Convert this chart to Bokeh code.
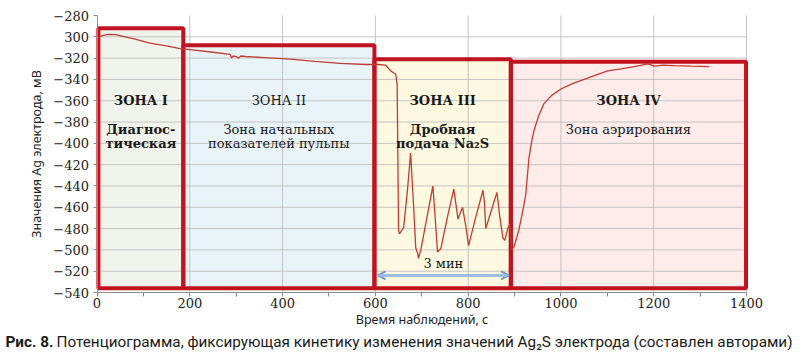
from bokeh.plotting import figure
from bokeh.models import Range1d, FixedTicker, Label, Arrow, OpenHead, ColumnDataSource
from bokeh.core.properties import value
from bokeh.embed import file_html
from bokeh.resources import INLINE

# ---------------- data ----------------
time_s = [0, 5, 13, 25, 40, 56, 80, 114, 150, 179,
          201, 250, 287, 290, 293, 300, 305, 310, 320, 360, 417, 470, 525, 580,
          605, 622, 633, 640, 644, 647, 650, 652, 661, 669, 676, 682, 687, 691, 693,
          698, 711, 724, 729, 734, 741, 755, 769, 774, 778, 788, 795, 801, 816, 832,
          835, 838, 850, 862, 868, 875, 879, 886, 890,
          894, 899, 909, 917, 924, 931, 937, 942, 952, 963, 980, 1000, 1025, 1050,
          1075, 1101, 1130, 1158, 1188, 1201, 1220, 1244, 1280, 1320]
potential_mv = [-302, -300, -298.7, -297.8, -298, -299.6, -302, -306, -308.5, -311,
                -312, -314.5, -316.5, -320, -318, -318.5, -320, -318, -318.5, -319.5, -321, -323, -325, -326,
                -326, -326.5, -332, -334, -335, -345, -482, -485, -479, -445, -409, -455, -498, -503, -508,
                -500, -470, -440, -470, -502, -499, -470, -443, -458, -471, -460, -478, -496, -470, -444,
                -455, -480, -463, -446, -468, -489, -491, -479, -476,
                -500, -497, -482, -465, -449, -414, -398, -388, -374, -363, -355, -349, -344, -340,
                -336, -332, -330, -328, -325.5, -327.5, -326.5, -327, -327.5, -328]

zone_left = [3, 186, 598, 892]
zone_right = [186, 598, 892, 1399]
zone_top = [-292, -308, -321, -323.5]
zone_bottom = [-536, -536, -536, -536]

zone_titles = ["ЗОНА I", "ЗОНА II", "ЗОНА III", "ЗОНА IV"]
zone_line1 = ["Диагнос-", "Зона начальных", "Дробная", "Зона аэрирования"]
zone_line2 = ["тическая", "показателей пульпы", "подача Na₂S", ""]
zone_bold = [True, False, True, False]

arrow_span = [605, 888]
arrow_level = -524
arrow_text = "3 мин"

x_min, x_max = 0, 1400
y_min, y_max = -540, -280
x_ticks = [0, 200, 400, 600, 800, 1000, 1200, 1400]
x_minor = [100, 300, 500, 700, 900, 1100, 1300]
y_ticks = list(range(-540, -279, 20))
y_tick_labels = {t: ("300" if t == -300 else "−" + str(-t)) for t in y_ticks}

caption_bold = "Рис. 8."
caption_text = "Потенциограмма, фиксирующая кинетику изменения значений Ag₂S электрода (составлен авторами)"

# ---------------- styles / geometry ----------------
zone_fills = ["#f0f4ec", "#e9f4f8", "#fdf9e0", "#fdecea"]
border_col = "#c1121f"
line_col = "#c23b33"
grid_col = "#c4c4c4"
serif = "DejaVu Serif"
sans = "Noto Sans"
cap_font = "Roboto"

W, H = 800, 360
frame_l, frame_r, frame_t, frame_b = 96.5, 746.0, 15.0, 292.0   # plot area in pixels
sx = (frame_r - frame_l) / (x_max - x_min)
sy = (frame_b - frame_t) / (y_max - y_min)
xr = Range1d(x_min - frame_l / sx, x_max + (W - frame_r) / sx)
yr = Range1d(y_min - (H - frame_b) / sy, y_max + frame_t / sy)

p = figure(width=W, height=H, output_backend="svg", toolbar_location=None,
           x_range=xr, y_range=yr, min_border=0)
p.outline_line_color = None
p.background_fill_color = "white"
p.xgrid.visible = False
p.ygrid.visible = False

zsrc = ColumnDataSource(dict(left=zone_left, right=zone_right, top=zone_top,
                             bottom=zone_bottom, fill=zone_fills))
fills = p.quad(left="left", right="right", top="top", bottom="bottom", source=zsrc,
               fill_color="fill", line_color=None)
fills.level = "image"

# grid lines limited to the plot area
vg = p.segment(x0=x_ticks[1:], x1=x_ticks[1:], y0=[y_min] * 7, y1=[y_max] * 7,
               line_color=grid_col, line_width=1)
hg = p.segment(x0=[x_min] * 12, x1=[x_max] * 12, y0=y_ticks[1:-1], y1=y_ticks[1:-1],
               line_color=grid_col, line_width=1)
vg.level = "underlay"
hg.level = "underlay"

p.quad(left="left", right="right", top="top", bottom="bottom", source=zsrc,
       fill_color=None, line_color=border_col, line_width=4)

p.line(time_s, potential_mv, line_color=line_col, line_width=1.3)

# axes fixed at the plot-area edges
p.xaxis.fixed_location = y_min
p.yaxis.fixed_location = x_min
p.xaxis.bounds = (x_min, x_max)
p.yaxis.bounds = (y_min, y_max)
p.xaxis.ticker = FixedTicker(ticks=x_ticks, minor_ticks=x_minor)
p.yaxis.ticker = FixedTicker(ticks=y_ticks)
p.yaxis.major_label_overrides = y_tick_labels
for ax in (p.xaxis[0], p.yaxis[0]):
    ax.axis_line_color = "#8c8c8c"
    ax.major_tick_line_color = "#8c8c8c"
    ax.minor_tick_line_color = "#8c8c8c"
    ax.major_tick_in = 0
    ax.minor_tick_in = 0
    ax.major_tick_out = 4
    ax.minor_tick_out = 4
    ax.major_label_text_font = serif
    ax.major_label_text_font_size = "13px"
    ax.major_label_text_color = "#222222"
    ax.axis_label_text_font = sans
    ax.axis_label_text_font_style = "normal"
    ax.axis_label_text_font_size = "12.5px"
    ax.axis_label_text_color = "#222222"
p.yaxis.minor_tick_line_color = None
p.yaxis.major_label_standoff = 4
p.xaxis.major_label_standoff = 1
p.xaxis.axis_label = "Время наблюдений, с"
p.yaxis.axis_label = "Значения Ag электрода, мВ"
p.xaxis.axis_label_standoff = 0
p.yaxis.axis_label_standoff = 6

# zone texts
centers = [(l + r) / 2 for l, r in zip(zone_left, zone_right)]
for i in range(4):
    style = "bold" if zone_bold[i] or i == 3 else "normal"
    src = ColumnDataSource(dict(x=[centers[i]], y=[-360], t=[zone_titles[i]]))
    p.text(x="x", y="y", text="t", source=src, text_font=value(serif),
           text_font_size="13px", text_font_style=style, text_align="center",
           text_baseline="middle", text_color="#1a1a1a")
    style2 = "bold" if zone_bold[i] else "normal"
    lines = [zone_line1[i], zone_line2[i]]
    src2 = ColumnDataSource(dict(x=[centers[i]] * 2, y=[-387, -400], t=lines))
    p.text(x="x", y="y", text="t", source=src2, text_font=value(serif),
           text_font_size="13px", text_font_style=style2, text_align="center",
           text_baseline="middle", text_color="#1a1a1a")

# 3 minute arrow
p.add_layout(Arrow(start=OpenHead(size=8, line_color="#6f98c8", line_width=2),
                   end=OpenHead(size=8, line_color="#6f98c8", line_width=2),
                   x_start=arrow_span[0], y_start=arrow_level,
                   x_end=arrow_span[1], y_end=arrow_level,
                   line_color="#9cbde2", line_width=3))
p.add_layout(Label(x=(arrow_span[0] + arrow_span[1]) / 2, y=arrow_level, y_offset=4,
                   text=arrow_text, text_font=serif, text_font_size="13px",
                   text_align="center", text_baseline="bottom", text_color="#1a1a1a"))

# caption (inside the canvas-wide frame)
cap_y = y_min - (341 - frame_b) / sy
cap_src_b = ColumnDataSource(dict(x=[x_min - (frame_l - 5) / sx], y=[cap_y], t=[caption_bold]))
cap_src_r = ColumnDataSource(dict(x=[x_min - (frame_l - 56) / sx], y=[cap_y], t=[caption_text]))
p.text(x="x", y="y", text="t", source=cap_src_b, text_font=value(cap_font),
       text_font_size="15.3px", text_font_style="bold", text_baseline="middle",
       text_color="#1a1a1a")
p.text(x="x", y="y", text="t", source=cap_src_r, text_font=value(cap_font),
       text_font_size="15.3px", text_baseline="middle", text_color="#1a1a1a")

open("out.html", "w").write(file_html(p, INLINE))
